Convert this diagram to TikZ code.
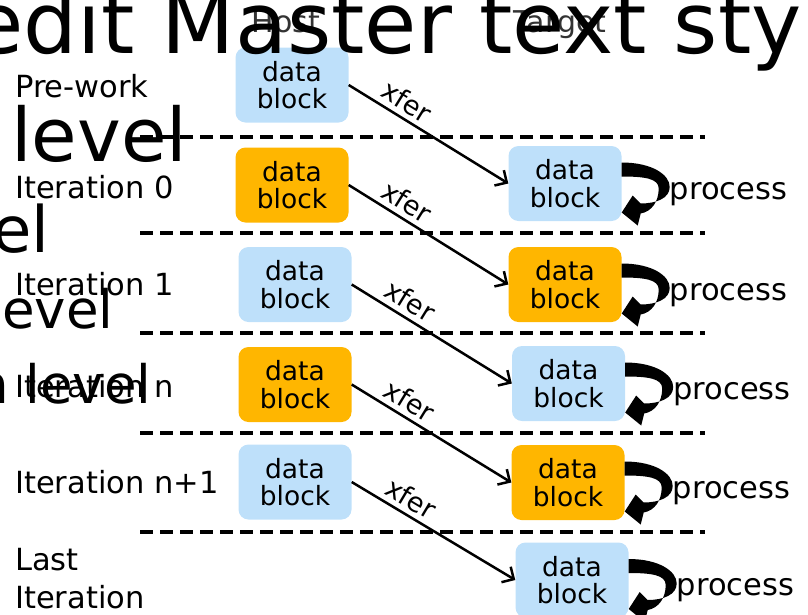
\documentclass[tikz,border=0pt]{standalone}
\usepackage{fontspec}
\setmainfont{DejaVu Sans}
\usetikzlibrary{arrows.meta,calc}
\definecolor{blk}{RGB}{190,224,250}
\definecolor{org}{RGB}{255,182,0}
\begin{document}
\begin{tikzpicture}[x=1pt,y=-1pt,
  blockbox/.style={rounded corners=10pt, minimum width=113pt, minimum height=75pt, inner sep=0pt, align=center, font=\fontsize{26.5}{27.5}\selectfont},
  blueblock/.style={blockbox, fill=blk},
  orangeblock/.style={blockbox, fill=org},
  rowlabel/.style={anchor=base west, inner sep=0pt, font=\fontsize{30.5}{32}\selectfont},
  colhead/.style={anchor=base, inner sep=0pt, text=black!80, font=\fontsize{30}{32}\selectfont},
  proclabel/.style={anchor=base west, inner sep=0pt, font=\fontsize{30.5}{32}\selectfont},
  xferarrow/.style={draw, line width=2.5pt, -{Straight Barb[length=9pt,width=18pt]}},
  xferlabel/.style={sloped, above=5pt, pos=0.31, inner sep=0pt, font=\fontsize{27}{29}\selectfont},
  sepline/.style={draw, line width=3.5pt, dash pattern=on 13pt off 7pt},
  ghost/.style={anchor=base west, inner sep=0pt, text=black},
  procarrow/.pic={\fill (0,-21) .. controls (30,-21) and (48,-9) .. (48,3.5)
      .. controls (48,15) and (34,20) .. (19,20) -- (11,12) -- (0,29) -- (16,42) -- (19,30)
      .. controls (30,28) and (37,18) .. (37,5)
      .. controls (37,-5) and (23,-7) .. (0,-7) -- cycle;}
]
\useasboundingbox (0,0) rectangle (808,614);
\clip (0,0) rectangle (808,614);

% column headers
\node[colhead] (host) at (286,32) {Host};
\node[colhead] (target) at (560,32) {Target};

% row labels
\node[rowlabel] (l0) at (15,97) {Pre-work};
\node[rowlabel] (l1) at (15,198) {Iteration 0};
\node[rowlabel] (l2) at (15,295) {Iteration 1};
\node[rowlabel] (l3) at (15,397) {Iteration n};
\node[rowlabel] (l4) at (15,493) {Iteration n+1};
\node[rowlabel] (l5) at (15,570) {Last};
\node[rowlabel] (l6) at (15,608) {Iteration};

% separators
\foreach \yy in {137,233,333,433,532} \draw[sepline] (140,\yy) -- (705,\yy);

% host blocks
\node[blueblock] (H0) at (292,85) {data\\block};
\node[orangeblock] (H1) at (292,185) {data\\block};
\node[blueblock] (H2) at (295,284.5) {data\\block};
\node[orangeblock] (H3) at (295,384.5) {data\\block};
\node[blueblock] (H4) at (295,482) {data\\block};

% target blocks
\node[blueblock] (T0) at (565,183.5) {data\\block};
\node[orangeblock] (T1) at (565,284.5) {data\\block};
\node[blueblock] (T2) at (568.5,383.5) {data\\block};
\node[orangeblock] (T3) at (568,482.5) {data\\block};
\node[blueblock] (T4) at (572,580) {data\\block};

% transfers
\draw[xferarrow] (H0.east) -- node[xferlabel] {xfer} (T0.west);
\draw[xferarrow] (H1.east) -- node[xferlabel] {xfer} (T1.west);
\draw[xferarrow] (H2.east) -- node[xferlabel] {xfer} (T2.west);
\draw[xferarrow] (H3.east) -- node[xferlabel] {xfer} (T3.west);
\draw[xferarrow] (H4.east) -- node[xferlabel] {xfer} (T4.west);

% process loops
\foreach \t in {T0,T1,T2,T3,T4} {
  \pic at (\t.east) {procarrow};
  \node[proclabel] (P\t) at ($(\t.east)+(48,15.5)$) {process};
}

% placeholder text overlay
\node[ghost, font=\fontsize{85}{90}\selectfont] (g0) at (-28.6,53) {edit Master text sty};
\node[ghost, font=\fontsize{74}{78}\selectfont] (g1) at (11,161) {level};
\node[ghost, font=\fontsize{64}{68}\selectfont] (g2) at (-8,252) {el};
\node[ghost, font=\fontsize{53}{56}\selectfont] (g3) at (2,328) {evel};
\node[ghost, font=\fontsize{53}{56}\selectfont] (g4) at (-25,403) {n level};
\end{tikzpicture}
\end{document}
